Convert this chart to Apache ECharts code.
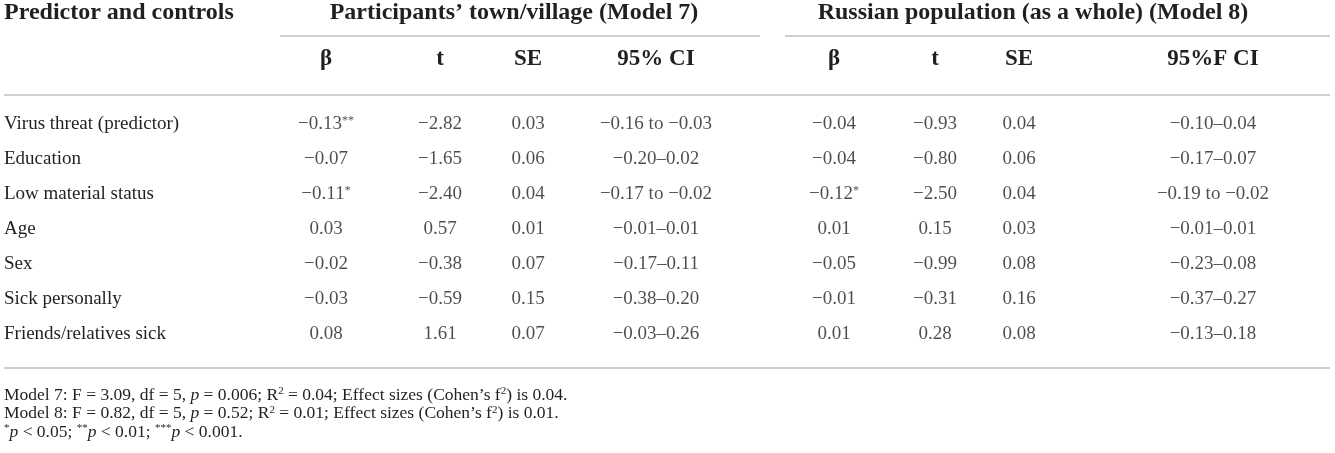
<!DOCTYPE html>
<html>
<head>
<meta charset="utf-8">
<script src="https://cdn.jsdelivr.net/npm/echarts@6/dist/echarts.min.js"></script>
<style>
  html, body { margin: 0; padding: 0; background: #fff; }
  #main { width: 1335px; height: 453px; }
</style>
</head>
<body>
<div id="main"></div>
<script>
// table content
var rowNames = ['Virus threat (predictor)', 'Education', 'Low material status', 'Age', 'Sex', 'Sick personally', 'Friends/relatives sick'];

var betaM7 = [-0.13, -0.07, -0.11, 0.03, -0.02, -0.03, 0.08];
var starsM7 = ['**', '', '*', '', '', '', ''];
var tM7 = [-2.82, -1.65, -2.40, 0.57, -0.38, -0.59, 1.61];
var seM7 = [0.03, 0.06, 0.04, 0.01, 0.07, 0.15, 0.07];
var ciM7 = ['−0.16 to −0.03', '−0.20–0.02', '−0.17 to −0.02', '−0.01–0.01', '−0.17–0.11', '−0.38–0.20', '−0.03–0.26'];

var betaM8 = [-0.04, -0.04, -0.12, 0.01, -0.05, -0.01, 0.01];
var starsM8 = ['', '', '*', '', '', '', ''];
var tM8 = [-0.93, -0.80, -2.50, 0.15, -0.99, -0.31, 0.28];
var seM8 = [0.04, 0.06, 0.04, 0.03, 0.08, 0.16, 0.08];
var ciM8 = ['−0.10–0.04', '−0.17–0.07', '−0.19 to −0.02', '−0.01–0.01', '−0.23–0.08', '−0.37–0.27', '−0.13–0.18'];

var firstHeader = 'Predictor and controls';
var groupHeaders = ['Participants’ town/village (Model 7)', 'Russian population (as a whole) (Model 8)'];
var columnHeaders = ['β', 't', 'SE', '95% CI', 'β', 't', 'SE', '95%F CI'];
var footnotes = [
    'Model 7: F = 3.09, df = 5, {i|p} = 0.006; R{sup|2} = 0.04; Effect sizes (Cohen’s f{sup|2}) is 0.04.',
    'Model 8: F = 0.82, df = 5, {i|p} = 0.52; R{sup|2} = 0.01; Effect sizes (Cohen’s f{sup|2}) is 0.01.',
    '{sup|*}{i|p} < 0.05; {sup|**}{i|p} < 0.01; {sup|***}{i|p} < 0.001.'
];

// layout (column centres on the hidden x axis, pixels)
var colX = [326, 440, 528, 656, 834, 935, 1019, 1213];
var groupX = [514, 1033];
var groupLines = [[280, 760], [785, 1330]];

var FONT = '"Liberation Serif", "DejaVu Serif", serif';
var INK = '#231f20';
var RULE = '#cfcfcf';

function num(v) {
    return v.toFixed(2).replace('-', '−');
}

var columns = [
    betaM7.map(function (v, i) { return num(v) + starsM7[i]; }),
    tM7.map(num),
    seM7.map(num),
    ciM7,
    betaM8.map(function (v, i) { return num(v) + starsM8[i]; }),
    tM8.map(num),
    seM8.map(num),
    ciM8
];

var cells = [];
for (var j = 0; j < columns.length; j++) {
    for (var i = 0; i < rowNames.length; i++) {
        cells.push({ value: [colX[j], rowNames[i]], text: columns[j][i] });
    }
}

var chart = echarts.init(document.getElementById('main'));

var graphics = [];
graphics.push({
    type: 'text', x: 4, y: 13,
    style: { text: firstHeader, font: 'bold 24px ' + FONT, fill: INK, verticalAlign: 'middle' }
});
groupHeaders.forEach(function (h, k) {
    graphics.push({
        type: 'text', x: groupX[k], y: 13,
        style: { text: h, font: 'bold 24px ' + FONT, fill: INK, align: 'center', verticalAlign: 'middle' }
    });
    graphics.push({
        type: 'line',
        shape: { x1: groupLines[k][0], y1: 36, x2: groupLines[k][1], y2: 36 },
        style: { stroke: RULE, lineWidth: 2 }
    });
});
columnHeaders.forEach(function (h, j) {
    graphics.push({
        type: 'text', x: colX[j], y: 59,
        style: { text: h, font: 'bold 23px ' + FONT, fill: INK, align: 'center', verticalAlign: 'middle' }
    });
});
[95, 368].forEach(function (y) {
    graphics.push({
        type: 'line',
        shape: { x1: 4, y1: y, x2: 1330, y2: y },
        style: { stroke: RULE, lineWidth: 2 }
    });
});
footnotes.forEach(function (f, k) {
    graphics.push({
        type: 'text', x: 4, y: 395 + k * 18.5,
        style: {
            text: f, font: '17.5px ' + FONT, fill: INK, verticalAlign: 'middle',
            rich: {
                i: { fontStyle: 'italic', fontSize: 17.5, fontFamily: FONT, fill: INK },
                sup: { fontSize: 11, fontFamily: FONT, fill: INK, verticalAlign: 'top', padding: [0, 0, 7, 0] }
            }
        }
    });
});

var option = {
    animation: false,
    backgroundColor: '#fff',
    grid: { left: 0, right: 0, top: 107, height: 244 },
    xAxis: { type: 'value', min: 0, max: 1335, show: false },
    yAxis: {
        type: 'category',
        data: rowNames,
        inverse: true,
        axisLine: { show: false },
        axisTick: { show: false },
        splitLine: { show: false },
        axisLabel: { inside: true, margin: 4, fontFamily: FONT, fontSize: 19, color: INK }
    },
    series: [{
        type: 'scatter',
        symbolSize: 0,
        data: cells,
        label: {
            show: true,
            position: 'inside',
            fontFamily: FONT,
            fontSize: 19,
            color: INK,
            formatter: function (p) {
                return p.data.text.replace(/(\*+)/, '{s|$1}');
            },
            rich: {
                s: { fontSize: 12, fontFamily: FONT, color: INK, verticalAlign: 'top', padding: [0, 0, 7, 0] }
            }
        }
    }],
    graphic: graphics
};

chart.setOption(option);
</script>
</body>
</html>
